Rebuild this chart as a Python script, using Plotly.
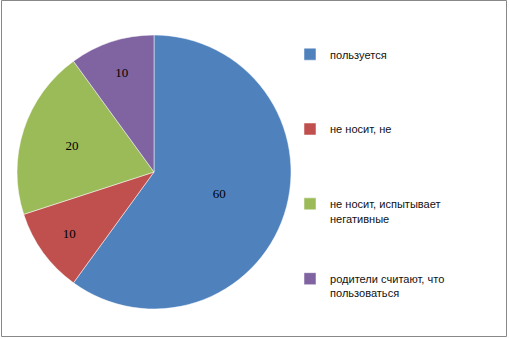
import plotly.graph_objects as go

labels = ["пользуется", "не носит, не", "не носит, испытывает<br>негативные", "родители считают, что<br>пользоваться"]
values = [60, 10, 20, 10]
colors = ["#4F81BD", "#C0504D", "#9BBB59", "#8064A2"]

# pad legend entries vertically (legend spacing in the reference); last entry unpadded
line_counts = [l.count("<br>") + 1 for l in labels]
legend_labels = [l + ("<br> " * (5 - n) if i < len(labels) - 1 else "")
                 for i, (l, n) in enumerate(zip(labels, line_counts))]

W, H = 509, 339
cx, cy, r = 154, 172, 137

fig = go.Figure(go.Pie(
    labels=legend_labels,
    values=values,
    sort=False,
    direction="clockwise",
    rotation=0,
    marker=dict(colors=colors, line=dict(color="white", width=0.5)),
    textinfo="value",
    textposition="inside",
    insidetextorientation="horizontal",
    textfont=dict(family="Liberation Serif", size=13, color="black"),
    domain=dict(x=[(cx - r) / W, (cx + r) / W], y=[(H - cy - r) / H, (H - cy + r) / H]),
    hoverinfo="label+value",
))

fig.update_layout(
    width=W, height=H,
    margin=dict(l=0, r=0, t=0, b=0),
    paper_bgcolor="white",
    showlegend=True,
    legend=dict(
        x=290 / W, xanchor="left",
        y=1 - 40.5 / H, yanchor="top",
        valign="top",
        bgcolor="rgba(0,0,0,0)",
        font=dict(family="Liberation Sans", size=11.05, color="#111111"),
        traceorder="normal",
        itemwidth=30,
    ),
    shapes=[dict(type="rect", xref="paper", yref="paper",
                 x0=1.5 / W, x1=506.5 / W, y0=1 - 336.5 / H, y1=1 - 0.5 / H,
                 line=dict(color="#888888", width=1))],
)

fig.write_html("out.html")
